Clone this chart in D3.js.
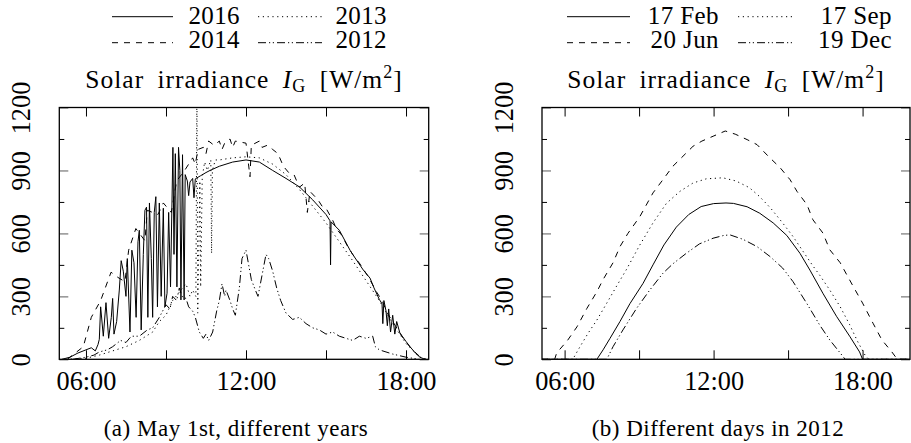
<!DOCTYPE html>
<html>
<head>
<meta charset="utf-8">
<script src="https://cdn.jsdelivr.net/npm/d3@7"></script>
<style>
  html, body { margin: 0; padding: 0; background: #fff; }
  svg { display: block; }
</style>
</head>
<body>
<svg id="chart" width="911" height="443"></svg>
<script>
// ---------------- DATA ----------------
// (hour of day, irradiance W/m²)
const may2016 = [[5.1,0],[5.4,10],[5.7,30],[6.0,45],[6.2,55],[6.35,40],[6.45,70],[6.5,95],[6.55,250],[6.65,110],[6.75,270],[6.85,100],[6.95,200],[7.0,290],[7.05,120],[7.15,180],[7.25,330],[7.32,470],[7.4,420],[7.5,300],[7.55,480],[7.65,130],[7.72,520],[7.8,460],[7.88,200],[7.95,560],[8.0,615],[8.07,140],[8.15,500],[8.21,710],[8.27,725],[8.32,200],[8.38,745],[8.45,480],[8.5,200],[8.56,700],[8.62,775],[8.68,250],[8.75,745],[8.82,300],[8.9,720],[8.96,250],[9.04,315],[9.1,700],[9.17,345],[9.26,1010],[9.3,500],[9.35,980],[9.41,345],[9.47,1010],[9.52,900],[9.56,283],[9.62,975],[9.68,283],[9.72,880],[9.8,850],[9.85,780],[9.9,845],[10.0,862],[10.05,770],[10.1,860],[10.3,875],[10.5,890],[10.65,900],[11.0,920],[11.5,940],[12.0,950],[12.5,940],[13.0,900],[13.5,862],[14.0,822],[14.5,760],[15.0,690],[15.15,660],[15.17,450],[15.19,655],[15.5,615],[15.9,520],[16.0,500],[16.4,425],[16.65,387],[16.8,340],[17.0,285],[17.1,265],[17.13,170],[17.17,280],[17.25,230],[17.3,160],[17.35,240],[17.42,130],[17.5,210],[17.58,120],[17.65,180],[17.77,125],[18.0,85],[18.15,60],[18.35,30],[18.52,10],[18.71,0]];
const may2014 = [[5.3,0],[5.6,30],[5.9,60],[6.2,200],[6.55,280],[6.94,415],[7.2,390],[7.46,370],[7.6,520],[7.87,623],[8.21,565],[8.3,710],[8.7,690],[8.9,745],[9.2,700],[9.4,850],[9.7,900],[10.0,960],[10.1,930],[10.2,1000],[10.4,1010],[10.5,980],[10.6,1040],[10.8,1020],[11.0,1040],[11.1,1000],[11.2,1030],[11.4,1050],[11.5,1010],[11.6,1040],[11.8,1035],[12.0,1030],[12.15,870],[12.2,1020],[12.5,1040],[12.6,1010],[12.8,1020],[13.0,1000],[13.2,980],[13.4,920],[13.6,890],[13.8,880],[14.0,820],[14.2,840],[14.3,700],[14.4,800],[14.7,760],[14.85,730],[15.0,720],[15.26,660],[15.4,620],[15.6,590],[15.8,540],[16.0,500],[16.3,450],[16.6,390],[16.9,320],[17.1,280],[17.3,220],[17.6,160],[17.9,100],[18.2,50],[18.5,15],[18.75,0]];
const may2013 = [[5.25,0],[6.0,5],[6.5,20],[7.0,40],[7.5,60],[8.0,90],[8.5,130],[8.75,180],[9.0,210],[9.25,280],[9.5,320],[9.75,360],[9.9,300],[10.0,330],[10.12,300],[10.16,1300],[10.19,220],[10.27,850],[10.3,345],[10.36,870],[10.45,940],[10.55,900],[10.68,950],[10.71,505],[10.74,900],[10.85,950],[11.0,950],[11.5,960],[12.0,965],[12.5,960],[13.0,930],[13.5,880],[14.0,810],[14.5,730],[15.0,650],[15.5,560],[16.0,470],[16.5,375],[17.0,280],[17.5,170],[18.0,75],[18.5,12],[18.75,0]];
const may2012 = [[5.5,0],[6.0,10],[6.3,20],[6.5,35],[6.8,45],[7.0,60],[7.3,90],[7.5,80],[7.7,110],[8.0,110],[8.3,140],[8.5,150],[8.75,200],[9.0,260],[9.15,240],[9.25,300],[9.4,280],[9.5,340],[9.6,300],[9.75,290],[9.85,250],[10.0,230],[10.1,200],[10.25,130],[10.4,100],[10.5,120],[10.6,90],[10.75,130],[10.9,230],[11.0,280],[11.1,360],[11.2,300],[11.25,330],[11.4,280],[11.5,240],[11.6,210],[11.75,340],[11.85,480],[12.0,520],[12.1,450],[12.2,380],[12.35,330],[12.45,300],[12.6,400],[12.75,500],[12.85,480],[13.0,420],[13.15,340],[13.3,280],[13.5,220],[13.75,190],[14.0,200],[14.25,170],[14.5,150],[14.75,140],[15.0,120],[15.25,130],[15.5,110],[15.75,100],[16.0,90],[16.25,110],[16.5,100],[16.75,110],[16.85,60],[17.0,45],[17.5,25],[18.0,10],[18.5,0]];

const feb17 = [[5.09,0],[7.3,0],[7.55,45],[7.83,100],[8.23,180],[8.63,265],[9.16,362],[9.56,450],[10.0,545],[10.5,630],[11.0,690],[11.5,728],[12.0,742],[12.5,745],[12.8,743],[13.35,727],[13.86,696],[14.4,650],[14.95,590],[15.48,505],[15.88,425],[16.4,315],[16.95,205],[17.48,110],[17.88,35],[18.0,0],[19.91,0]];
const jun20 = [[5.09,0],[5.6,0],[5.68,30],[6.13,92],[6.5,155],[6.9,243],[7.3,322],[7.55,380],[7.95,460],[8.23,537],[8.55,600],[9.03,680],[9.56,793],[9.96,856],[10.36,920],[10.77,968],[11.17,1015],[11.53,1040],[11.98,1063],[12.47,1088],[12.87,1073],[13.35,1047],[13.75,1023],[14.2,968],[14.68,913],[15.08,856],[15.36,800],[15.76,737],[16.0,665],[16.4,602],[16.68,522],[17.1,460],[17.4,395],[17.7,331],[18.0,268],[18.42,172],[18.78,92],[19.18,35],[19.4,0],[19.91,0]];
const sep17 = [[5.09,0],[6.33,0],[6.62,60],[6.95,125],[7.3,187],[7.7,268],[8.1,350],[8.5,430],[9.03,545],[9.56,650],[10.1,743],[10.64,800],[11.17,840],[11.7,860],[12.37,865],[12.9,850],[13.44,818],[13.84,777],[14.3,720],[14.78,650],[15.2,585],[15.6,515],[16.0,445],[16.28,400],[16.68,330],[17.1,250],[17.48,165],[17.8,85],[18.1,20],[18.25,0],[19.91,0]];
const dec19 = [[5.09,0],[7.7,0],[7.95,60],[8.35,140],[8.9,243],[9.43,330],[9.96,410],[10.36,455],[10.9,505],[11.43,550],[11.98,577],[12.4,590],[12.66,593],[13.18,572],[13.75,537],[14.27,490],[14.78,435],[15.2,370],[15.76,265],[16.28,162],[16.68,92],[17.1,30],[17.3,0],[19.91,0]];

const yearLabels = ["2016", "2014", "2013", "2012"];
const dayLabels = ["17 Feb", "20 Jun", "17 Sep", "19 Dec"];
const yTickValues = [0, 150, 300, 450, 600, 750, 900, 1050, 1200];
const yLabelValues = [0, 300, 600, 900, 1200];
const xTickValues = [6, 9, 12, 15, 18];
const xLabelValues = [6, 12, 18];
const captions = ["(a) May 1st, different years", "(b) Different days in 2012"];

// ---------------- STYLE ----------------
const FONT = '"Liberation Serif", "Times New Roman", serif';
const styles = [
  { dash: null },                       // solid
  { dash: "6 6" },                      // dashed
  { dash: "1.2 3.6" },                  // dotted
  { dash: "8 3 1.2 2.6 1.2 3" }         // dash-dot-dot
];

const svg = d3.select("#chart");
svg.append("rect").attr("width", 911).attr("height", 443).attr("fill", "#fff");

function fmtHour(h) { return d3.format("02d")(h) + ":00"; }

function panel(cfg, idx) {
  const x = d3.scaleLinear().domain(cfg.xDomain).range([cfg.left, cfg.right]);
  const y = d3.scaleLinear().domain([0, 1200]).range([cfg.bottom, cfg.top]);
  const g = svg.append("g");

  const clipId = "clip" + idx;
  svg.append("clipPath").attr("id", clipId).append("rect")
    .attr("x", cfg.left).attr("y", cfg.top)
    .attr("width", cfg.right - cfg.left).attr("height", cfg.bottom - cfg.top);

  const line = d3.line().x(d => x(d[0])).y(d => y(d[1]));
  const lines = g.append("g").attr("clip-path", `url(#${clipId})`);
  cfg.series.map((s, i) => ({ s, i })).reverse().forEach(({ s, i }) => {
    lines.append("path").datum(s)
      .attr("d", line)
      .attr("fill", "none")
      .attr("stroke", "#000")
      .attr("stroke-width", 1)
      .attr("stroke-linejoin", "round")
      .attr("stroke-dasharray", styles[i].dash);
  });

  // axes (ticks inward)
  const xb = d3.axisBottom(x).tickValues(xTickValues).tickSize(-9)
    .tickFormat(d => xLabelValues.includes(d) ? fmtHour(d) : "");
  const xt = d3.axisTop(x).tickValues(xTickValues).tickSize(-9).tickFormat("");
  const gxb = g.append("g").attr("transform", `translate(0,${cfg.bottom})`).call(xb);
  const gxt = g.append("g").attr("transform", `translate(0,${cfg.top})`).call(xt);
  [gxb, gxt].forEach(a => {
    a.select(".domain").remove();
    a.selectAll(".tick line").attr("stroke", "#000").attr("stroke-width", 1);
  });
  gxb.selectAll(".tick text").attr("y", 390 - cfg.bottom).attr("dy", 0)
    .attr("font-size", 26.3).style("font-family", FONT).attr("fill", "#000");

  const yl = d3.axisLeft(y).tickValues(yTickValues).tickSize(0)
    .tickFormat(d => yLabelValues.includes(d) ? d : "");
  const yr = d3.axisRight(y).tickValues(yTickValues).tickSize(0).tickFormat("");
  const gyl = g.append("g").attr("transform", `translate(${cfg.left},0)`).call(yl);
  const gyr = g.append("g").attr("transform", `translate(${cfg.right},0)`).call(yr);
  [[gyl, 1], [gyr, -1]].forEach(([a, dir]) => {
    a.select(".domain").remove();
    a.selectAll(".tick line")
      .attr("x2", d => dir * (d % 300 === 0 ? 9 : 5))
      .attr("stroke", d => d % 300 === 0 ? "#8a8a8a" : "#000")
      .attr("stroke-width", d => d % 300 === 0 ? 1.4 : 1);
  });
  gyl.selectAll(".tick text")
    .attr("x", null).attr("dy", 0)
    .attr("text-anchor", "middle")
    .attr("transform", `translate(-29,0) rotate(-90)`)
    .attr("font-size", 26.3).style("font-family", FONT).attr("fill", "#000");

  // frame
  g.append("rect").attr("x", cfg.left).attr("y", cfg.top)
    .attr("width", cfg.right - cfg.left).attr("height", cfg.bottom - cfg.top)
    .attr("fill", "none").attr("stroke", "#000").attr("stroke-width", 1.3);

  // title
  const cx = (cfg.left + cfg.right) / 2;
  const t = g.append("text").attr("x", cx).attr("y", 88).attr("text-anchor", "middle")
    .attr("font-size", 25.5).style("font-family", FONT)
    .style("letter-spacing", "1px").style("word-spacing", "6px");
  t.append("tspan").text("Solar irradiance ");
  t.append("tspan").attr("font-style", "italic").text("I");
  t.append("tspan").attr("font-size", 18).attr("dy", 4).text("G");
  t.append("tspan").attr("dy", -4).text(" [W/m");
  t.append("tspan").attr("font-size", 18).attr("dy", -10).text("2");
  t.append("tspan").attr("dy", 10).text("]");

  // legend: 2 columns x 2 rows
  const lg = g.append("g");
  cfg.labels.forEach((lab, i) => {
    const col = i < 2 ? 0 : 1, row = i % 2;
    const L = cfg.legend[col];
    const ly = row === 0 ? 16.7 : 42.7;
    const ty = row === 0 ? 24 : 48.3;
    lg.append("line").attr("x1", L[0]).attr("x2", L[1]).attr("y1", ly).attr("y2", ly)
      .attr("stroke", "#000").attr("stroke-width", 1)
      .attr("stroke-dasharray", styles[i].dash);
    lg.append("text").attr("x", L[2]).attr("y", ty).attr("text-anchor", "end")
      .attr("font-size", 25).style("font-family", FONT).style("letter-spacing", "0.4px").text(lab);
  });

  // caption
  g.append("text").attr("x", cfg.captionX).attr("y", 436).attr("text-anchor", "middle")
    .attr("font-size", 23).style("font-family", FONT).style("letter-spacing", "0.5px")
    .text(cfg.caption);
}

panel({
  xDomain: [5, 18.85], left: 59.3, right: 428.7, top: 107.5, bottom: 359.3,
  series: [may2016, may2014, may2013, may2012],
  labels: yearLabels,
  legend: [[112, 173, 240], [258, 322, 387]],
  caption: captions[0], captionX: 236
}, 0);

panel({
  xDomain: [5.09, 19.91], left: 542, right: 910, top: 107.5, bottom: 359.3,
  series: [feb17, jun20, sep17, dec19],
  labels: dayLabels,
  legend: [[567, 630, 719], [738, 792, 892]],
  caption: captions[1], captionX: 718
}, 1);
</script>
</body>
</html>
